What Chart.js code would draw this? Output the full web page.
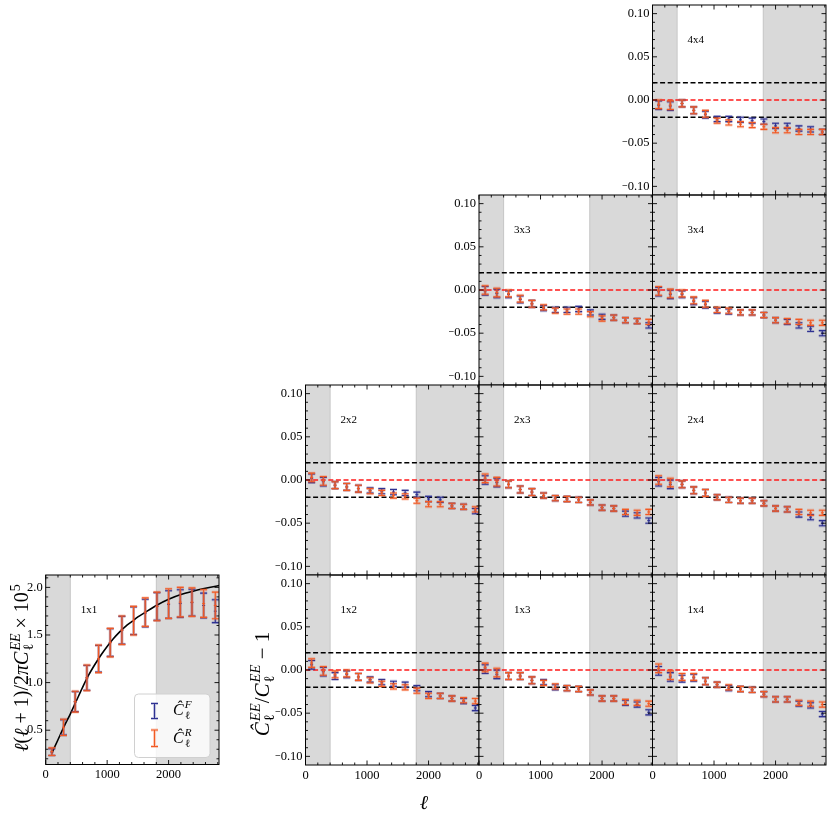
<!DOCTYPE html>
<html>
<head>
<meta charset="utf-8">
<script src="https://cdn.jsdelivr.net/npm/chart.js@4.4.1/dist/chart.umd.min.js"></script>
<style>
  body { margin: 0; background: #fff; }
  #wrap { position: relative; width: 831px; height: 819px; }
  #wrap canvas { position: absolute; left: 0; top: 0; }
</style>
</head>
<body>
<div id="wrap"></div>
<script>
// multipole bin centres
const ells = [100, 290, 480, 670, 860, 1050, 1240, 1430, 1620, 1810, 2000, 2190, 2380, 2570, 2760];

// tick labels / tick marks
const xTicks = [0, 1000, 2000];
const xMinor = [200, 400, 600, 800, 1200, 1400, 1600, 1800, 2200, 2400, 2600, 2800];
const ratioTicks = [-0.10, -0.05, 0.00, 0.05, 0.10];
const ratioMinor = [-0.09, -0.08, -0.07, -0.06, -0.04, -0.03, -0.02, -0.01,
                    0.01, 0.02, 0.03, 0.04, 0.06, 0.07, 0.08, 0.09];
const clTicks = [0.5, 1.0, 1.5, 2.0];
const clMinor = [0.2, 0.3, 0.4, 0.6, 0.7, 0.8, 0.9, 1.1, 1.2, 1.3, 1.4, 1.6, 1.7, 1.8, 1.9, 2.1];

// masked ell ranges (grey bands) and reference lines
const maskedBands = [[0, 400], [1800, 2820]];
const refLevels = [0.02, 0.00, -0.02];

// 1x1 panel: band powers (x 1e5) and theory curve
const clF = [0.27, 0.53, 0.80, 1.05, 1.25, 1.42, 1.55, 1.65, 1.73, 1.80, 1.82, 1.83, 1.84, 1.81, 1.75];
const clR = [0.275, 0.53, 0.80, 1.05, 1.25, 1.42, 1.55, 1.65, 1.74, 1.80, 1.83, 1.845, 1.845, 1.83, 1.81];
const clErrF = [0.035, 0.08, 0.105, 0.13, 0.14, 0.145, 0.145, 0.145, 0.145, 0.145, 0.145, 0.145, 0.14, 0.13, 0.12];
const clErrR = [0.04, 0.085, 0.11, 0.135, 0.145, 0.15, 0.15, 0.15, 0.15, 0.15, 0.155, 0.155, 0.15, 0.145, 0.14];
const theoryEll = [100, 200, 300, 400, 500, 600, 700, 800, 900, 1000, 1100, 1200, 1300, 1400, 1500,
                   1600, 1700, 1800, 2000, 2200, 2400, 2600, 2820];
const theoryCl = [0.26, 0.40, 0.54, 0.67, 0.81, 0.95, 1.08, 1.19, 1.29, 1.38, 1.46, 1.53, 1.59, 1.64, 1.69,
                  1.73, 1.77, 1.81, 1.875, 1.925, 1.96, 1.99, 2.02];

// ratio panels: F (blue) and R (orange) estimates
const r4x4F = [-0.006, -0.007, -0.004, -0.012, -0.017, -0.022, -0.022, -0.023, -0.024, -0.025, -0.030, -0.030, -0.033, -0.034, -0.037];
const r4x4R = [-0.005, -0.006, -0.004, -0.012, -0.016, -0.024, -0.026, -0.028, -0.029, -0.031, -0.035, -0.035, -0.037, -0.037, -0.037];
const r3x3F = [-0.001, -0.004, -0.005, -0.011, -0.016, -0.021, -0.023, -0.023, -0.022, -0.026, -0.031, -0.032, -0.035, -0.036, -0.041];
const r3x3R = [0.000, -0.003, -0.004, -0.010, -0.016, -0.020, -0.024, -0.025, -0.025, -0.028, -0.033, -0.032, -0.035, -0.036, -0.037];
const r3x4F = [-0.002, -0.005, -0.005, -0.013, -0.017, -0.024, -0.025, -0.026, -0.026, -0.029, -0.035, -0.037, -0.041, -0.045, -0.050];
const r3x4R = [-0.001, -0.004, -0.004, -0.012, -0.016, -0.023, -0.024, -0.026, -0.026, -0.029, -0.035, -0.036, -0.037, -0.038, -0.038];
const r2x2F = [0.002, -0.002, -0.006, -0.008, -0.010, -0.012, -0.013, -0.014, -0.015, -0.017, -0.022, -0.023, -0.030, -0.031, -0.036];
const r2x2R = [0.003, -0.001, -0.006, -0.008, -0.010, -0.013, -0.015, -0.018, -0.019, -0.024, -0.028, -0.028, -0.030, -0.031, -0.034];
const r2x3F = [0.000, -0.003, -0.005, -0.011, -0.014, -0.018, -0.021, -0.022, -0.023, -0.026, -0.032, -0.033, -0.039, -0.041, -0.047];
const r2x3R = [0.002, -0.002, -0.005, -0.011, -0.014, -0.018, -0.021, -0.022, -0.023, -0.026, -0.032, -0.033, -0.037, -0.038, -0.037];
const r2x4F = [-0.002, -0.005, -0.005, -0.012, -0.015, -0.020, -0.023, -0.024, -0.024, -0.027, -0.033, -0.034, -0.040, -0.043, -0.050];
const r2x4R = [0.000, -0.003, -0.005, -0.012, -0.015, -0.020, -0.023, -0.024, -0.024, -0.027, -0.033, -0.034, -0.037, -0.038, -0.038];
const r1x2F = [0.006, -0.002, -0.007, -0.005, -0.008, -0.011, -0.014, -0.016, -0.017, -0.021, -0.028, -0.030, -0.033, -0.036, -0.044];
const r1x2R = [0.008, -0.001, -0.005, -0.004, -0.008, -0.012, -0.016, -0.019, -0.020, -0.024, -0.030, -0.030, -0.033, -0.035, -0.036];
const r1x3F = [0.001, -0.005, -0.007, -0.007, -0.012, -0.014, -0.020, -0.021, -0.022, -0.026, -0.033, -0.033, -0.038, -0.040, -0.049];
const r1x3R = [0.003, -0.003, -0.007, -0.007, -0.012, -0.015, -0.019, -0.021, -0.022, -0.026, -0.033, -0.033, -0.037, -0.038, -0.039];
const r1x4F = [-0.001, -0.008, -0.010, -0.009, -0.013, -0.017, -0.021, -0.022, -0.023, -0.028, -0.034, -0.034, -0.039, -0.041, -0.051];
const r1x4R = [0.002, -0.006, -0.008, -0.008, -0.013, -0.017, -0.020, -0.022, -0.023, -0.028, -0.034, -0.034, -0.038, -0.039, -0.040];
const ratioErrF = [0.005, 0.005, 0.004, 0.004, 0.004, 0.003, 0.003, 0.003, 0.003, 0.003, 0.003, 0.003, 0.003, 0.003, 0.003];
const ratioErrR = [0.005, 0.005, 0.004, 0.004, 0.004, 0.003, 0.003, 0.003, 0.003, 0.003, 0.003, 0.003, 0.003, 0.003, 0.003];

// ---- layout ----
const W = 831, H = 819;
const YW = 30, XH = 20;
const XMAX = 2820;
const SERIF = '"Liberation Serif", "DejaVu Serif", serif';
const BLUE = '#2e3192', BLUE_HALO = 'rgba(46,49,146,0.28)';
const ORANGE = '#f15a24', ORANGE_HALO = 'rgba(241,90,36,0.3)';

const cols = [305.5, 479, 652.5];
const colW = 173.5;
const rows = [5, 195, 385, 575];
const rowH = 190;

const wrap = document.getElementById('wrap');

// draw a little math expression made of runs
function drawMath(ctx, runs, x, y, size, angle, align) {
  const font = (it, s) => (it ? 'italic ' : '') + s + 'px ' + SERIF;
  const small = size * 0.7;
  let total = 0;
  const items = runs.map(r => {
    let w;
    if (r.t !== undefined) {
      ctx.font = font(r.it, size);
      w = ctx.measureText(r.t).width;
    } else {
      ctx.font = font(r.supIt, small);
      const a = r.sup ? ctx.measureText(r.sup).width : 0;
      ctx.font = font(false, small);
      const b = r.sub ? ctx.measureText(r.sub).width : 0;
      w = Math.max(a, b) + 1;
    }
    total += w;
    return Object.assign({ w }, r);
  });
  ctx.save();
  ctx.translate(x, y);
  ctx.rotate(angle || 0);
  ctx.fillStyle = '#000';
  ctx.textBaseline = 'alphabetic';
  ctx.textAlign = 'left';
  let cx = align === 'left' ? 0 : -total / 2;
  const base = size * 0.32;
  items.forEach(r => {
    if (r.t !== undefined) {
      ctx.font = font(r.it, size);
      ctx.fillText(r.t, cx, base);
    } else {
      if (r.sup) {
        ctx.font = font(r.supIt, small);
        ctx.fillText(r.sup, cx + 1, base - size * 0.42);
      }
      if (r.sub) {
        ctx.font = font(false, small);
        ctx.fillText(r.sub, cx + 1, base + size * 0.24);
      }
    }
    cx += r.w;
  });
  ctx.restore();
}

function errorBar(ctx, x, top, bot, color, halo) {
  const cap = 3.5;
  const path = () => {
    ctx.beginPath();
    ctx.moveTo(x, top); ctx.lineTo(x, bot);
    ctx.moveTo(x - cap, top); ctx.lineTo(x + cap, top);
    ctx.moveTo(x - cap, bot); ctx.lineTo(x + cap, bot);
    ctx.stroke();
  };
  ctx.strokeStyle = halo; ctx.lineWidth = 2.8; path();
  ctx.strokeStyle = color; ctx.lineWidth = 1.1; path();
}

function makePanel(cfg) {
  const cv = document.createElement('canvas');
  cv.width = W; cv.height = H;
  wrap.appendChild(cv);
  const r = cfg.rect;

  const datasets = [];
  (cfg.refs || []).forEach(ref => datasets.push({
    data: [{ x: 0, y: ref.y }, { x: XMAX, y: ref.y }],
    showLine: true, pointRadius: 0, borderColor: ref.color, borderWidth: 1.4,
    borderDash: [5, 2.6]
  }));
  if (cfg.curve) datasets.push({
    data: cfg.curve.xs.map((x, i) => ({ x, y: cfg.curve.ys[i] })),
    showLine: true, pointRadius: 0, borderColor: '#000', borderWidth: 1.6,
    cubicInterpolationMode: 'monotone'
  });
  cfg.series.forEach(s => datasets.push({
    data: ells.map((x, i) => ({ x, y: s.vals[i] })),
    pointRadius: 0, showLine: false,
    errs: s.errs, barColor: s.color, haloColor: s.halo
  }));

  const panelPlugin = {
    id: 'panel',
    beforeDatasetsDraw(chart) {
      const { ctx, chartArea: a, scales: { x } } = chart;
      ctx.save();
      maskedBands.forEach(([lo, hi]) => {
        const x0 = Math.max(x.getPixelForValue(lo), a.left);
        const x1 = Math.min(x.getPixelForValue(hi), a.right);
        ctx.fillStyle = '#d9d9d9';
        ctx.fillRect(x0, a.top, x1 - x0, a.bottom - a.top);
        ctx.fillStyle = '#c6c6c6';
        if (x0 > a.left + 1) ctx.fillRect(x0 - 0.5, a.top, 1, a.bottom - a.top);
        if (x1 < a.right - 1) ctx.fillRect(x1 - 0.5, a.top, 1, a.bottom - a.top);
      });
      ctx.restore();
    },
    afterDatasetsDraw(chart) {
      const { ctx, chartArea: a, scales: { x, y } } = chart;
      ctx.save();
      ctx.beginPath();
      ctx.rect(a.left, a.top, a.right - a.left, a.bottom - a.top);
      ctx.clip();
      chart.data.datasets.forEach((ds, di) => {
        if (!ds.errs) return;
        const meta = chart.getDatasetMeta(di);
        meta.data.forEach((p, i) => {
          const v = ds.data[i].y, e = ds.errs[i];
          errorBar(ctx, p.x, y.getPixelForValue(v + e), y.getPixelForValue(v - e), ds.barColor, ds.haloColor);
          ctx.strokeStyle = ds.barColor; ctx.lineWidth = 1;
          ctx.beginPath(); ctx.moveTo(p.x - 1.5, p.y); ctx.lineTo(p.x + 1.5, p.y); ctx.stroke();
        });
      });
      ctx.restore();

      // frame and inward ticks on all four sides
      ctx.save();
      ctx.strokeStyle = '#000';
      ctx.lineWidth = 1;
      ctx.strokeRect(a.left, a.top, a.right - a.left, a.bottom - a.top);
      ctx.lineWidth = 0.9;
      ctx.beginPath();
      const xt = (vals, len) => vals.forEach(v => {
        const px = x.getPixelForValue(v);
        if (px < a.left - 0.5 || px > a.right + 0.5) return;
        ctx.moveTo(px, a.bottom); ctx.lineTo(px, a.bottom - len);
        ctx.moveTo(px, a.top); ctx.lineTo(px, a.top + len);
      });
      const yt = (vals, len) => vals.forEach(v => {
        const py = y.getPixelForValue(v);
        if (py < a.top - 0.5 || py > a.bottom + 0.5) return;
        ctx.moveTo(a.left, py); ctx.lineTo(a.left + len, py);
        ctx.moveTo(a.right, py); ctx.lineTo(a.right - len, py);
      });
      xt(xTicks, 4.5); xt(xMinor, 2.5);
      yt(cfg.yTicks, 4.5); yt(cfg.yMinor, 2.5);
      ctx.stroke();

      ctx.fillStyle = '#000';
      ctx.font = '11px ' + SERIF;
      ctx.textBaseline = 'middle';
      ctx.textAlign = 'left';
      ctx.fillText(cfg.label, a.left + 35, a.top + 35.5);
      ctx.restore();
    },
    afterDraw(chart) {
      if (cfg.extra) cfg.extra(chart.ctx, chart);
    }
  };

  const noPad = s => { s.paddingTop = 0; s.paddingBottom = 0; s.paddingLeft = 0; s.paddingRight = 0; };
  const tickFont = { family: SERIF, size: 12.5 };
  new Chart(cv, {
    type: 'scatter',
    data: { datasets },
    options: {
      responsive: false,
      animation: false,
      events: [],
      layout: { padding: { left: r.x0 - YW, top: r.y0, right: W - r.x1, bottom: H - r.y1 - XH } },
      plugins: { legend: { display: false }, tooltip: { enabled: false } },
      scales: {
        x: {
          type: 'linear', min: 0, max: XMAX,
          afterBuildTicks: s => { s.ticks = xTicks.map(v => ({ value: v })); },
          afterFit: s => { s.height = XH; noPad(s); },
          grid: { display: false, drawTicks: false },
          border: { display: false },
          ticks: {
            display: cfg.showX, autoSkip: false, maxRotation: 0, padding: 3,
            color: '#000', font: tickFont, callback: v => String(v)
          }
        },
        y: {
          type: 'linear', min: cfg.yMin, max: cfg.yMax,
          afterBuildTicks: s => { s.ticks = cfg.yTicks.map(v => ({ value: v })); },
          afterFit: s => { s.width = YW; noPad(s); },
          grid: { display: false, drawTicks: false },
          border: { display: false },
          ticks: {
            display: cfg.showY, autoSkip: false, padding: 3,
            color: '#000', font: tickFont, callback: cfg.yFmt
          }
        }
      }
    },
    plugins: [panelPlugin]
  });
}

const ratioFmt = v => (v < 0 ? '\u2212' : '') + Math.abs(v).toFixed(2);
const refs = refLevels.map(v => ({ y: v, color: v === 0 ? '#ff1a1a' : '#000' }));

const panels = [
  { label: '4x4', row: 0, col: 2, f: r4x4F, r: r4x4R },
  { label: '3x3', row: 1, col: 1, f: r3x3F, r: r3x3R },
  { label: '3x4', row: 1, col: 2, f: r3x4F, r: r3x4R },
  { label: '2x2', row: 2, col: 0, f: r2x2F, r: r2x2R },
  { label: '2x3', row: 2, col: 1, f: r2x3F, r: r2x3R },
  { label: '2x4', row: 2, col: 2, f: r2x4F, r: r2x4R },
  { label: '1x2', row: 3, col: 0, f: r1x2F, r: r1x2R },
  { label: '1x3', row: 3, col: 1, f: r1x3F, r: r1x3R },
  { label: '1x4', row: 3, col: 2, f: r1x4F, r: r1x4R }
];
const firstCol = [2, 1, 0, 0];

panels.forEach(p => {
  const x0 = cols[p.col], y0 = rows[p.row];
  makePanel({
    label: p.label,
    rect: { x0, y0, x1: x0 + colW, y1: y0 + rowH },
    yMin: -0.11, yMax: 0.11,
    yTicks: ratioTicks, yMinor: ratioMinor, yFmt: ratioFmt,
    showX: p.row === 3, showY: p.col === firstCol[p.row],
    refs,
    series: [
      { vals: p.f, errs: ratioErrF, color: BLUE, halo: BLUE_HALO },
      { vals: p.r, errs: ratioErrR, color: ORANGE, halo: ORANGE_HALO }
    ],
    extra: p.label === '1x2' ? (ctx) => {
      drawMath(ctx, [
        { t: 'Ĉ', it: true }, { sub: 'ℓ', sup: 'EE', supIt: true },
        { t: '/', it: false }, { t: 'C', it: true }, { sub: 'ℓ', sup: 'EE', supIt: true },
        { t: ' \u2212 1', it: false }
      ], 262, 684, 21, -Math.PI / 2);
      drawMath(ctx, [{ t: 'ℓ', it: true }], 424, 803, 20, 0);
    } : null
  });
});

// 1x1 panel with band powers and theory
makePanel({
  label: '1x1',
  rect: { x0: 45.7, y0: 575, x1: 219, y1: 764.5 },
  yMin: 0.14, yMax: 2.13,
  yTicks: clTicks, yMinor: clMinor, yFmt: v => v.toFixed(1),
  showX: true, showY: true,
  curve: { xs: theoryEll, ys: theoryCl },
  series: [
    { vals: clF, errs: clErrF, color: BLUE, halo: BLUE_HALO },
    { vals: clR, errs: clErrR, color: ORANGE, halo: ORANGE_HALO }
  ],
  extra: (ctx) => {
    drawMath(ctx, [
      { t: 'ℓ', it: true }, { t: '(', it: false }, { t: 'ℓ', it: true }, { t: ' + 1)/2', it: false },
      { t: 'π', it: true }, { t: 'C', it: true }, { sub: 'ℓ', sup: 'EE', supIt: true },
      { t: ' × 10', it: false }, { sup: '5', supIt: false }
    ], 22, 668, 20, -Math.PI / 2);

    // legend box
    ctx.save();
    ctx.beginPath();
    ctx.roundRect(134.5, 694, 75.5, 63.5, 4);
    ctx.fillStyle = 'rgba(255,255,255,0.8)';
    ctx.fill();
    ctx.strokeStyle = '#d0d0d0';
    ctx.lineWidth = 1;
    ctx.stroke();
    errorBar(ctx, 154.5, 703.5, 718.5, BLUE, BLUE_HALO);
    errorBar(ctx, 154.5, 730, 746.5, ORANGE, ORANGE_HALO);
    ctx.restore();
    drawMath(ctx, [{ t: 'Ĉ', it: true }, { sub: 'ℓ', sup: 'F', supIt: true }], 173, 710, 16, 0, 'left');
    drawMath(ctx, [{ t: 'Ĉ', it: true }, { sub: 'ℓ', sup: 'R', supIt: true }], 173, 738, 16, 0, 'left');
  }
});
</script>
</body>
</html>
